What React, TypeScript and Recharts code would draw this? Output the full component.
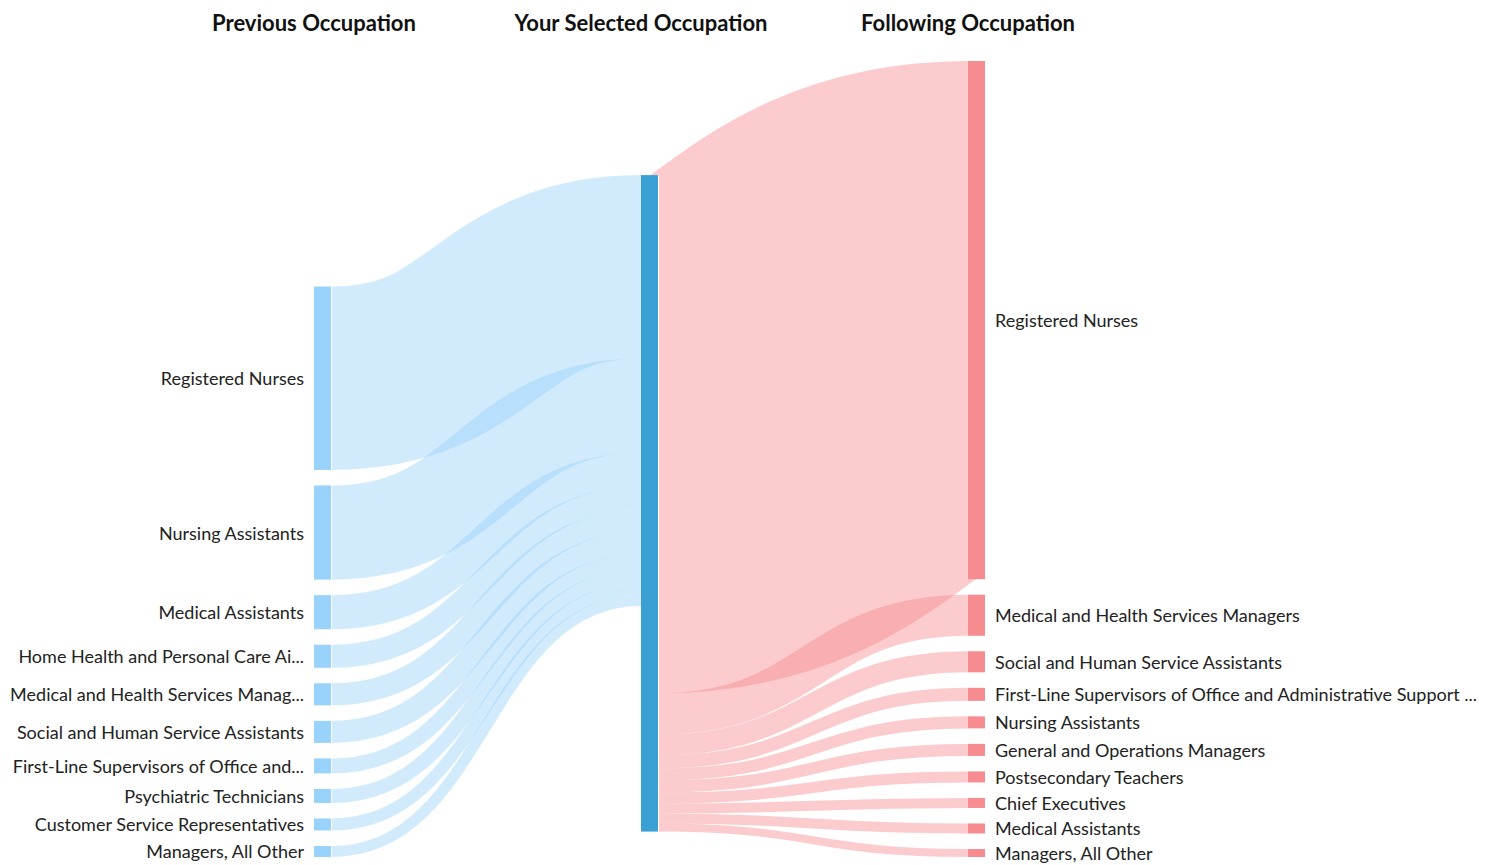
import React from 'react';
import { Sankey } from 'recharts';

const previousNames = [
  'Registered Nurses',
  'Nursing Assistants',
  'Medical Assistants',
  'Home Health and Personal Care Ai...',
  'Medical and Health Services Manag...',
  'Social and Human Service Assistants',
  'First-Line Supervisors of Office and...',
  'Psychiatric Technicians',
  'Customer Service Representatives',
  'Managers, All Other',
];
const previousValues = [183, 94, 34, 23, 22, 22, 15, 14, 12, 11];

const followingNames = [
  'Registered Nurses',
  'Medical and Health Services Managers',
  'Social and Human Service Assistants',
  'First-Line Supervisors of Office and Administrative Support ...',
  'Nursing Assistants',
  'General and Operations Managers',
  'Postsecondary Teachers',
  'Chief Executives',
  'Medical Assistants',
  'Managers, All Other',
];
const followingValues = [517, 41, 21, 13, 12, 12, 11, 10, 10, 8];

const headers = ['Previous Occupation', 'Your Selected Occupation', 'Following Occupation'];

const centerIndex = previousNames.length;
const nodes = [
  ...previousNames.map((name) => ({ name })),
  { name: 'Selected Occupation' },
  ...followingNames.map((name) => ({ name })),
];
const links = [
  ...previousValues.map((value, i) => ({ source: i, target: centerIndex, value })),
  ...followingValues.map((value, i) => ({ source: centerIndex, target: centerIndex + 1 + i, value })),
];

const BLUE_NODE = '#99d3fb';
const BLUE_CENTER = '#3aa0d3';
const PINK_NODE = '#f78c90';
const FONT = 'Lato, "Open Sans", sans-serif';

const NodeShape = (props: any) => {
  const { x, y, width, height, payload } = props;
  const depth = payload.depth;
  const fill = depth === 0 ? BLUE_NODE : depth === 1 ? BLUE_CENTER : PINK_NODE;
  return (
    <g>
      <rect x={x} y={y} width={width} height={height} fill={fill} />
      {depth !== 1 && (
        <text
          x={depth === 0 ? x - 10 : x + width + 10}
          y={y + height / 2}
          textAnchor={depth === 0 ? 'end' : 'start'}
          dominantBaseline="central"
          fontSize={18}
          fontFamily={FONT}
          fill="#222"
        >
          {payload.name}
        </text>
      )}
    </g>
  );
};

const LinkShape = (props: any) => {
  const { sourceX, targetX, sourceY, targetY, sourceControlX, targetControlX, linkWidth, payload } = props;
  const fromLeft = payload.source.depth === 0;
  return (
    <path
      d={`M${sourceX + 1},${sourceY}C${sourceControlX},${sourceY} ${targetControlX},${targetY} ${targetX},${targetY}`}
      fill="none"
      stroke={fromLeft ? BLUE_NODE : PINK_NODE}
      strokeOpacity={0.45}
      strokeWidth={linkWidth}
    />
  );
};

const headerX = [314, 641, 968];

export default function App() {
  return (
    <div style={{ position: 'absolute', left: 0, top: 0, width: 1494, height: 865, background: '#fff' }}>
      {headers.map((h, i) => (
        <div
          key={h}
          style={{
            position: 'absolute',
            left: headerX[i] - 200,
            width: 400,
            top: 9,
            textAlign: 'center',
            fontFamily: FONT,
            fontWeight: 700,
            fontSize: 22,
            color: '#111',
          }}
        >
          {h}
        </div>
      ))}
      <Sankey
        width={1494}
        height={865}
        data={{ nodes, links }}
        nodeWidth={17}
        nodePadding={15.5}
        margin={{ top: 61, right: 509, bottom: 8, left: 314 }}
        node={<NodeShape />}
        link={<LinkShape />}
      />
    </div>
  );
}
